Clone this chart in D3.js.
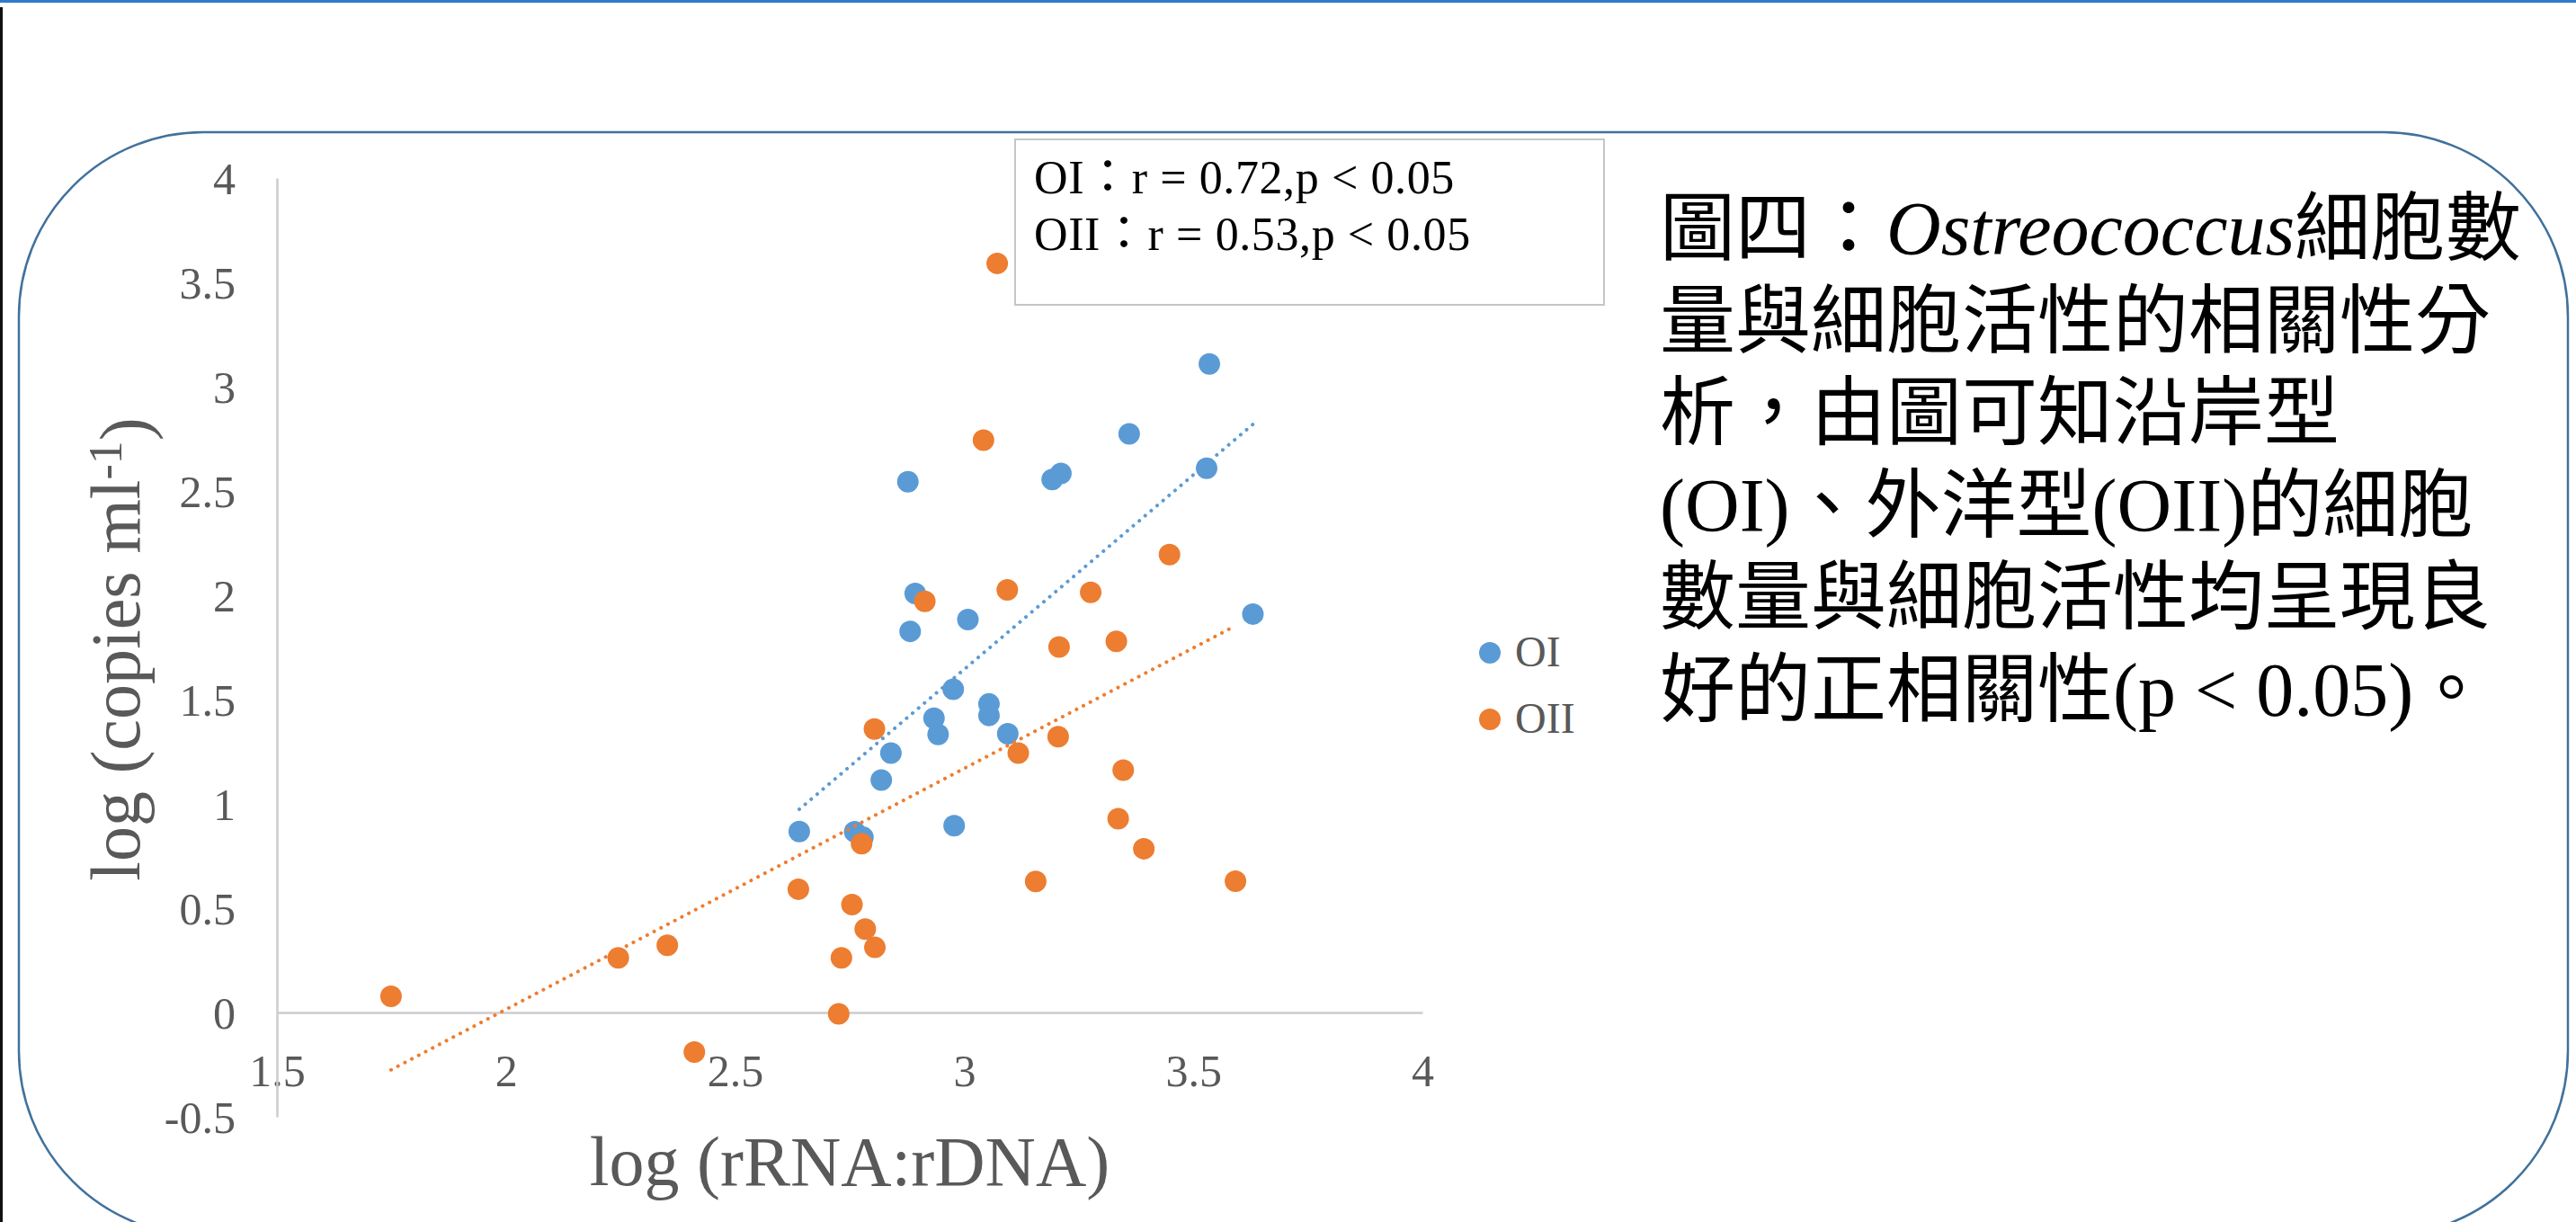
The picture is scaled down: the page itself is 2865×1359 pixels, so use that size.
<!DOCTYPE html>
<html>
<head>
<meta charset="utf-8">
<script src="https://cdn.jsdelivr.net/npm/d3@7"></script>
<style>
  html, body { margin: 0; padding: 0; background: #fff; }
  svg { display: block; }
  .serif { font-family: "Liberation Serif", "Noto Sans CJK TC", serif; }
</style>
</head>
<body>
<div id="chart"></div>
<script>
// data
var seriesNames = ["OI", "OII"];
var oiX = [2.640, 2.761, 2.779, 2.819, 2.840, 2.943, 2.934, 2.976, 3.054, 3.054, 3.095, 2.978,
           2.877, 2.893, 2.882, 3.008, 3.535, 3.360, 3.211, 3.192, 3.529, 3.630];
var oiY = [0.867, 0.866, 0.840, 1.114, 1.244, 1.333, 1.411, 1.550, 1.479, 1.424, 1.336, 0.895,
           2.544, 2.009, 1.827, 1.884, 3.109, 2.774, 2.584, 2.555, 2.609, 1.910];
var oiiX = [1.749, 2.245, 2.352, 2.411, 2.638, 2.726, 2.732, 2.755, 2.784, 2.805, 2.776, 2.804,
            3.118, 3.205, 3.156, 3.347, 3.336, 3.392, 3.592, 3.072, 3.042, 2.914, 3.094, 3.448,
            3.276, 3.207, 3.332];
var oiiY = [0.078, 0.262, 0.322, -0.190, 0.591, -0.006, 0.262, 0.517, 0.400, 0.312, 0.809, 1.359,
            1.244, 1.322, 0.628, 1.162, 0.929, 0.785, 0.629, 3.591, 2.744, 1.971, 2.026, 2.195,
            2.014, 1.752, 1.779];
// linear trendlines (slope, intercept) as drawn in the picture
var trendSlope = [1.864, 1.155];
var trendIntercept = [-3.947, -2.295];
var xTicks = [1.5, 2, 2.5, 3, 3.5, 4];
var yTicks = [-0.5, 0, 0.5, 1, 1.5, 2, 2.5, 3, 3.5, 4];
var statLines = ["OI：r = 0.72,p < 0.05", "OII：r = 0.53,p < 0.05"];
var captionLines = [
  ["圖四：", "Ostreococcus", "細胞數"],
  ["量與細胞活性的相關性分"],
  ["析，由圖可知沿岸型"],
  ["(OI)、外洋型(OII)的細胞"],
  ["數量與細胞活性均呈現良"],
  ["好的正相關性(p < 0.05)。"]
];

var colors = ["#5B9BD5", "#ED7D31"];
var series = [
  oiX.map(function(d, i) { return { x: d, y: oiY[i] }; }),
  oiiX.map(function(d, i) { return { x: d, y: oiiY[i] }; })
];

var W = 2865, H = 1359;
var svg = d3.select("#chart").append("svg")
  .attr("width", W).attr("height", H);

// page edges
svg.append("rect").attr("x", 0).attr("y", 0).attr("width", W).attr("height", 3)
  .attr("fill", "#2E7CC8");
svg.append("rect").attr("x", 0).attr("y", 8).attr("width", 3).attr("height", H - 8)
  .attr("fill", "#111");

// rounded frame
svg.append("rect")
  .attr("x", 21).attr("y", 147)
  .attr("width", 2835).attr("height", 1227)
  .attr("rx", 205).attr("ry", 205)
  .attr("fill", "none")
  .attr("stroke", "#41719C")
  .attr("stroke-width", 2.5);

var x = d3.scaleLinear().domain([1.5, 4]).range([308, 1582]);
var y = d3.scaleLinear().domain([-0.5, 4]).range([1242, 198]);

// axes
var xAxis = svg.append("g")
  .attr("class", "serif")
  .attr("transform", "translate(0," + y(0) + ")")
  .call(d3.axisBottom(x).tickValues(xTicks).tickSize(0).tickPadding(46)
    .tickFormat(function(d) { return String(d); }));
var yAxis = svg.append("g")
  .attr("class", "serif")
  .attr("transform", "translate(" + x(1.5) + ",0)")
  .call(d3.axisLeft(y).tickValues(yTicks).tickSize(0).tickPadding(46)
    .tickFormat(function(d) { return String(d); }));

[xAxis, yAxis].forEach(function(a) {
  a.select(".domain").attr("stroke", "#cccccc").attr("stroke-width", 2.5);
  a.selectAll("text")
    .attr("fill", "#595959")
    .style("font-size", "50px")
    .style("font-family", "'Liberation Serif', serif");
});
yAxis.selectAll("text").attr("dy", "0.34em");

// axis titles
svg.append("text")
  .attr("class", "serif")
  .attr("x", 945).attr("y", 1318)
  .attr("text-anchor", "middle")
  .attr("fill", "#595959")
  .style("font-size", "78px")
  .text("log (rRNA:rDNA)");

var yt = svg.append("text")
  .attr("class", "serif")
  .attr("transform", "translate(155,722) rotate(-90)")
  .attr("text-anchor", "middle")
  .attr("fill", "#595959")
  .style("font-size", "78px");
yt.append("tspan").text("log (copies ml");
yt.append("tspan").attr("dy", "-0.38em").style("font-size", "52px").text("-1");
yt.append("tspan").attr("dy", "0.38em").text(")");

// points
series.forEach(function(s, k) {
  svg.append("g").selectAll("circle")
    .data(s)
    .enter()
    .append("circle")
    .attr("cx", function(d) { return x(d.x); })
    .attr("cy", function(d) { return y(d.y); })
    .attr("r", 12)
    .attr("fill", colors[k]);
});

// dotted trendlines over the data range
series.forEach(function(s, k) {
  var ext = d3.extent(s, function(d) { return d.x; });
  var line = d3.line()
    .x(function(d) { return x(d); })
    .y(function(d) { return y(trendSlope[k] * d + trendIntercept[k]); });
  svg.append("path")
    .attr("d", line(ext))
    .attr("fill", "none")
    .attr("stroke", colors[k])
    .attr("stroke-width", 4)
    .attr("stroke-linecap", "round")
    .attr("stroke-dasharray", "0.1,8.6");
});

// stats box
svg.append("rect")
  .attr("x", 1129).attr("y", 155)
  .attr("width", 655).attr("height", 184)
  .attr("fill", "#fff")
  .attr("stroke", "#c6c6c6")
  .attr("stroke-width", 2);
svg.append("g").selectAll("text")
  .data(statLines)
  .enter()
  .append("text")
  .attr("class", "serif")
  .attr("x", 1150)
  .attr("y", function(d, i) { return 215 + i * 63; })
  .attr("fill", "#000")
  .style("font-size", "52px")
  .style("letter-spacing", "0.6px")
  .text(function(d) { return d; });

// legend
var leg = svg.append("g").selectAll("g")
  .data(seriesNames)
  .enter()
  .append("g")
  .attr("transform", function(d, i) { return "translate(1657," + (726 + i * 74) + ")"; });
leg.append("circle").attr("r", 12).attr("fill", function(d, i) { return colors[i]; });
leg.append("text")
  .attr("class", "serif")
  .attr("x", 28).attr("y", 15)
  .attr("fill", "#595959")
  .style("font-size", "48px")
  .text(function(d) { return d; });

// caption
var cap = svg.append("g").selectAll("text")
  .data(captionLines)
  .enter()
  .append("text")
  .attr("class", "serif")
  .attr("x", 1846)
  .attr("y", function(d, i) { return 283 + i * 102.6; })
  .attr("fill", "#000")
  .style("font-size", "84px");
cap.selectAll("tspan")
  .data(function(d) { return d; })
  .enter()
  .append("tspan")
  .style("font-style", function(d) { return d === "Ostreococcus" ? "italic" : "normal"; })
  .text(function(d) { return d; });
</script>
</body>
</html>
